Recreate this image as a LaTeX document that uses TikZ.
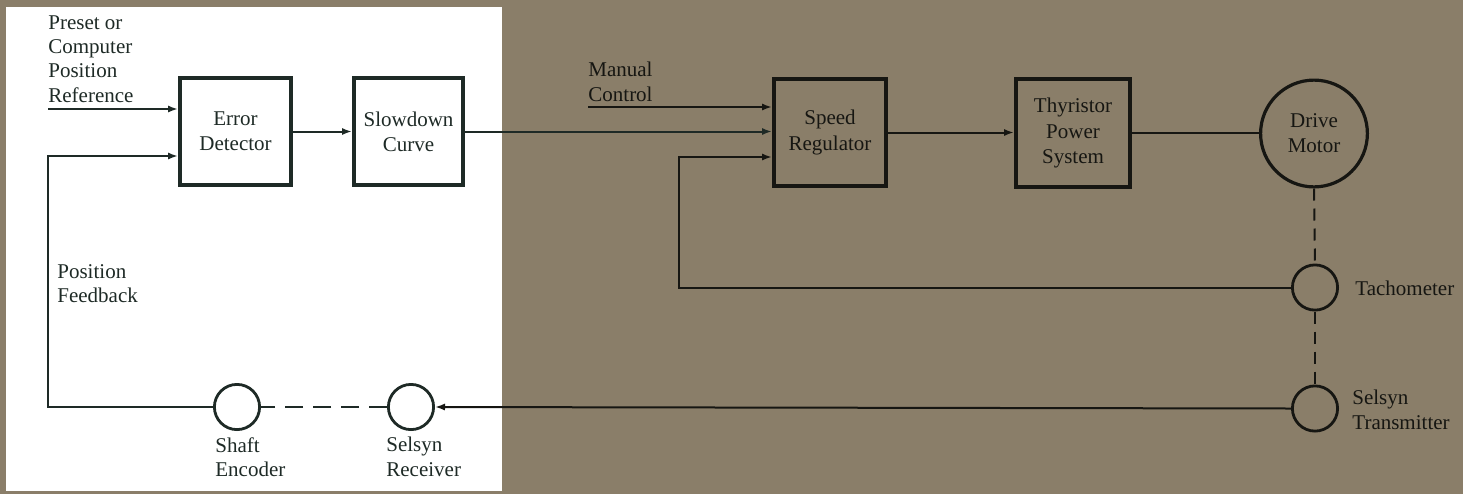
\documentclass[tikz,border=0pt]{standalone}
\usepackage{fontspec}
\setmainfont{Liberation Serif}
\usetikzlibrary{arrows.meta,shapes.geometric}
\definecolor{paper}{RGB}{138,126,105}
\definecolor{ink}{RGB}{30,42,38}
\definecolor{inkdark}{RGB}{22,22,18}

\begin{document}
\begin{tikzpicture}[x=0.5pt, y=-0.5pt,
    >={Latex[length=5pt,width=3.6pt]},
    box/.style={draw, line width=2pt, minimum height=53.5pt, align=center, inner sep=0pt, font=\fontsize{10.5}{12.6}\selectfont},
    motor/.style={draw, circle, line width=1.6pt, minimum size=53.4pt, align=center, inner sep=0pt, font=\fontsize{10.5}{12.6}\selectfont},
    sensor/.style={draw, circle, line width=1.4pt, minimum size=22.6pt, inner sep=0pt},
    lbl/.style={align=left, inner sep=0pt, anchor=north west, font=\fontsize{10.5}{12.2}\selectfont},
    sig/.style={line width=1pt},
]
    % Background
    \fill[paper] (0,0) rectangle (1463,494);
    \fill[white] (6,7) rectangle (502,491);

    % Position loop
    \node[box, draw=ink, text=ink, minimum width=55.5pt] (err) at (235.5,131.5) {Error\\Detector};
    \node[box, draw=ink, text=ink, minimum width=54.5pt] (slow) at (408.5,131.5) {Slowdown\\Curve};
    \node[sensor, draw=ink] (shaft) at (237,407) {};
    \node[sensor, draw=ink] (srecv) at (411,407) {};

    % Speed loop
    \node[box, draw=inkdark, text=inkdark, minimum width=56pt] (reg) at (830,132.5) {Speed\\Regulator};
    \node[box, draw=inkdark, text=inkdark, minimum width=57pt, minimum height=54pt] (thy) at (1073,133) {Thyristor\\Power\\System};
    \node[motor, draw=inkdark, text=inkdark] (motor) at (1314,133.5) {Drive\\Motor};
    \node[sensor, draw=inkdark] (tach) at (1315,287.5) {};
    \node[sensor, draw=inkdark] (stx) at (1315,408.5) {};

    % Labels
    \node[lbl, text=ink] (preset) at (48,15) {Preset or\\Computer\\Position\\Reference};
    \node[lbl, text=ink] (posfb) at (57,264) {Position\\Feedback};
    \node[lbl, text=ink] (shaftlbl) at (215,437) {Shaft\\Encoder};
    \node[lbl, text=ink] (srecvlbl) at (386,437) {Selsyn\\Receiver};
    \node[lbl, text=inkdark] (manual) at (588,62) {Manual\\Control};
    \node[lbl, anchor=west, text=inkdark] (tachlbl) at (1355,288) {Tachometer};
    \node[lbl, anchor=west, text=inkdark] (stxlbl) at (1352,410) {Selsyn\\Transmitter};

    % Free ends
    \coordinate (refin) at (48,109);
    \coordinate (posin) at (48,156);
    \coordinate (manin) at (588,107);
    \coordinate (spdin) at (679,157);

    % Connectors
    \draw[sig, ink, ->] (refin) -- (refin -| err.west);
    \draw[sig, ink, ->] (shaft.west) -| (posin) -- (posin -| err.west);
    \draw[sig, ink, ->] (err.east) -- (slow.west);
    \draw[sig, ink, ->] (slow.east) -- (slow.east -| reg.west);
    \draw[sig, inkdark, ->] (manin) -- (manin -| reg.west);
    \draw[sig, inkdark, ->] (tach.west) -| (spdin) -- (spdin -| reg.west);
    \draw[sig, inkdark, ->] (reg.east) -- (reg.east -| thy.west);
    \draw[sig, inkdark] (thy.east) -- (thy.east -| motor.west);
    \draw[sig, inkdark, ->] (stx.west) -- (srecv.east);
    \draw[sig, ink, dash pattern=on 9pt off 5pt] (srecv.west) -- (shaft.east);
    \draw[sig, inkdark, dash pattern=on 6pt off 4pt] (motor.south) -- (tach.north);
    \draw[sig, inkdark, dash pattern=on 6pt off 4pt] (tach.south) -- (stx.north);
\end{tikzpicture}
\end{document}
